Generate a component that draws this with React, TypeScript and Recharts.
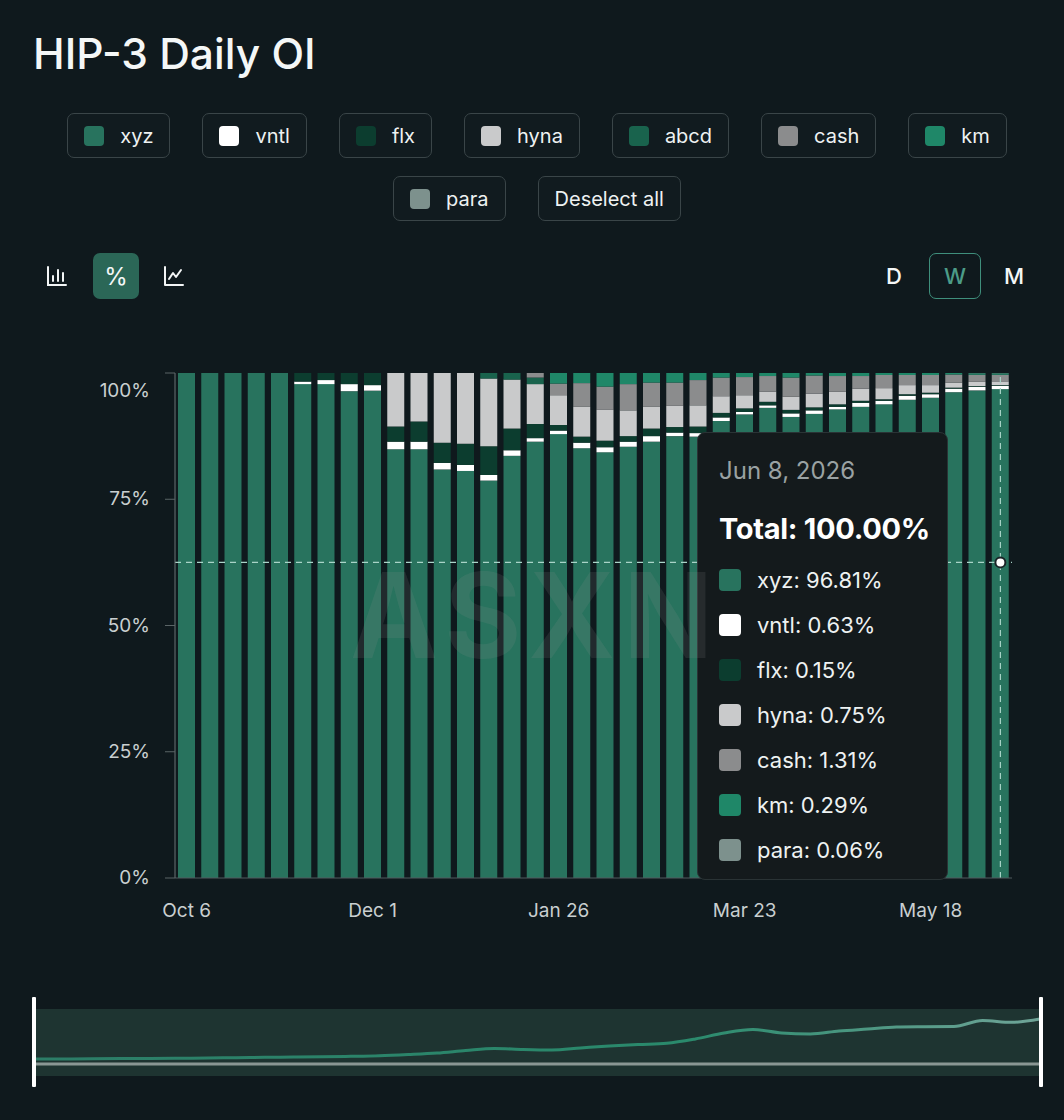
import React from "react"
import {
  BarChart,
  Bar,
  XAxis,
  YAxis,
  Tooltip,
  ReferenceLine,
  ReferenceDot,
  LineChart,
  Line,
} from "recharts"

// weekly buckets, Oct 6 2025 .. Jun 8 2026
const weeks = [
  "Oct 6", "Oct 13", "Oct 20", "Oct 27", "Nov 3", "Nov 10", "Nov 17", "Nov 24",
  "Dec 1", "Dec 8", "Dec 15", "Dec 22", "Dec 29", "Jan 5", "Jan 12", "Jan 19",
  "Jan 26", "Feb 2", "Feb 9", "Feb 16", "Feb 23", "Mar 2", "Mar 9", "Mar 16",
  "Mar 23", "Mar 30", "Apr 6", "Apr 13", "Apr 20", "Apr 27", "May 4", "May 11",
  "May 18", "May 25", "Jun 1", "Jun 8",
]

// share of open interest, %
const xyz = [
  100, 100, 100, 100, 100, 97.8, 97.8, 96.4, 96.5, 84.9, 84.9, 80.9, 80.6, 78.7, 83.6, 86.4,
  87.9, 85.1, 84.3, 85.4, 86.4, 87.5, 87.4, 90.5, 91.8, 93.1, 91.3, 91.9, 92.8, 93.3, 93.8, 94.7,
  95.1, 96.2, 96.6, 96.81,
]
const vntl = [
  0, 0, 0, 0, 0, 0.5, 0.8, 1.4, 1.1, 1.5, 1.5, 1.3, 1.2, 1.1, 1.1, 0.7,
  0.7, 1.1, 1.0, 1.0, 1.1, 0.7, 0.7, 0.7, 0.5, 0.5, 0.7, 0.7, 0.5, 0.8, 0.7, 0.8,
  0.7, 0.7, 0.7, 0.63,
]
const flx = [
  0, 0, 0, 0, 0, 1.7, 1.4, 2.2, 2.4, 3.0, 4.0, 4.0, 4.2, 5.7, 4.3, 2.8,
  1.1, 1.2, 1.3, 1.1, 1.5, 1.1, 1.3, 0.9, 0.7, 0.7, 0.7, 0.6, 0.5, 0.4, 0.3, 0.3,
  0.3, 0.2, 0.15, 0.15,
]
const hyna = [
  0, 0, 0, 0, 0, 0, 0, 0, 0, 10.6, 9.6, 13.8, 14.0, 13.4, 9.7, 7.9,
  5.9, 5.9, 6.1, 5.1, 4.3, 4.2, 4.2, 3.3, 2.6, 2.0, 2.6, 2.7, 2.5, 2.4, 2.2, 1.8,
  1.5, 1.0, 0.85, 0.75,
]
const abcd = [
  0, 0, 0, 0, 0, 0, 0, 0, 0, 0, 0, 0, 0, 1.1, 1.3, 1.3,
  0, 0, 0, 0, 0, 0, 0, 0, 0, 0, 0, 0, 0, 0, 0, 0,
  0, 0, 0, 0,
]
const cash = [
  0, 0, 0, 0, 0, 0, 0, 0, 0, 0, 0, 0, 0, 0, 0, 0.9,
  2.3, 4.7, 4.6, 5.2, 4.8, 4.6, 5.0, 3.7, 3.6, 3.1, 3.8, 3.6, 3.1, 2.5, 2.6, 2.0,
  2.0, 1.6, 1.4, 1.31,
]
const km = [
  0, 0, 0, 0, 0, 0, 0, 0, 0, 0, 0, 0, 0, 0, 0, 0,
  2.1, 2.0, 2.7, 2.2, 1.9, 1.9, 1.4, 0.9, 0.8, 0.6, 0.9, 0.5, 0.6, 0.6, 0.4, 0.4,
  0.4, 0.3, 0.3, 0.29,
]
const para = [
  0, 0, 0, 0, 0, 0, 0, 0, 0, 0, 0, 0, 0, 0, 0, 0,
  0, 0, 0, 0, 0, 0, 0, 0, 0, 0, 0, 0, 0, 0, 0, 0,
  0, 0, 0.05, 0.06,
]

// total OI for the range strip, $M
const totalOi = [
  100, 100, 104, 108, 110, 114, 120, 126, 134, 140, 146, 154, 166, 190, 220, 270,
  310, 290, 280, 320, 360, 390, 414, 500, 620, 690, 620, 600, 660, 700, 740, 746,
  750, 870, 834, 900,
]

const yTicks = [0, 0.25, 0.5, 0.75, 1]

const series = [
  { key: "xyz", color: "#28735e", values: xyz },
  { key: "vntl", color: "#ffffff", values: vntl },
  { key: "flx", color: "#0c3d2f", values: flx },
  { key: "hyna", color: "#c9cacb", values: hyna },
  { key: "abcd", color: "#19634d", values: abcd },
  { key: "cash", color: "#8b8c8d", values: cash },
  { key: "km", color: "#1f8768", values: km },
  { key: "para", color: "#7d918d", values: para },
]

const data = weeks.map((week, i) => {
  const row: Record<string, string | number> = { week }
  series.forEach((s) => {
    row[s.key] = s.values[i]
  })
  return row
})

const brushData = weeks.map((week, i) => ({ week, total: totalOi[i] }))

const BG = "#0f191d"
const FONT = "Inter, 'Noto Sans', sans-serif"

function yearOf(label: string) {
  return weeks.indexOf(label) >= 13 ? 2026 : 2025
}

function YTick({ x, y, payload }: any) {
  const top = payload.value === 1
  return (
    <text x={x} y={y} dy={top ? 24 : 6} textAnchor="end" fill="#c9cfd0" fontSize={19} fontFamily={FONT}>
      {`${Math.round(payload.value * 100)}%`}
    </text>
  )
}

function OiTooltip({ active, payload, label }: any) {
  if (!active || !payload || !payload.length) return null
  const total = payload.reduce((sum: number, p: any) => sum + Number(p.value || 0), 0)
  const rows = payload.filter((p: any) => Number(p.value) > 0)
  return (
    <div
      style={{
        position: "relative",
        width: 251,
        height: 448,
        background: "#141a1c",
        border: "1px solid #2a3335",
        borderRadius: 8,
        boxSizing: "border-box",
        fontFamily: FONT,
      }}
    >
      <div style={{ position: "absolute", left: 21, top: 22, fontSize: 24, lineHeight: "32px", color: "#9aa2a3" }}>
        {`${label}, ${yearOf(label)}`}
      </div>
      <div
        style={{
          position: "absolute",
          left: 21,
          top: 78,
          fontSize: 29,
          lineHeight: "36px",
          fontWeight: 700,
          color: "#ffffff",
          letterSpacing: -0.3,
        }}
      >
        {`Total: ${total.toFixed(2)}%`}
      </div>
      {rows.map((p: any, i: number) => (
        <div
          key={p.dataKey}
          style={{
            position: "absolute",
            left: 21,
            top: 131 + i * 45,
            height: 32,
            display: "flex",
            alignItems: "center",
            gap: 16,
            fontSize: 22,
            color: "#eef2f2",
          }}
        >
          <span style={{ width: 22, height: 22, borderRadius: 4, background: p.color }} />
          <span>{`${p.name}: ${Number(p.value).toFixed(2)}%`}</span>
        </div>
      ))}
    </div>
  )
}

function LegendButton({ color, label }: { color?: string; label: string }) {
  return (
    <div
      style={{
        height: 45,
        boxSizing: "border-box",
        border: "1.5px solid #3a4548",
        borderRadius: 7,
        background: "#111b1f",
        display: "flex",
        alignItems: "center",
        gap: 16,
        padding: "0 16px",
        fontSize: 20,
        color: "#eef2f2",
      }}
    >
      {color && <span style={{ width: 20, height: 20, borderRadius: 4, background: color }} />}
      <span>{label}</span>
    </div>
  )
}

function BarsIcon() {
  return (
    <svg width={24} height={24} viewBox="0 0 24 24" fill="none" stroke="#f2f5f5" strokeWidth={2} strokeLinecap="round">
      <path d="M3 3v18h18" />
      <path d="M8 17v-5M13 17V6M18 17v-8" />
    </svg>
  )
}

function LineIcon() {
  return (
    <svg width={24} height={24} viewBox="0 0 24 24" fill="none" stroke="#f2f5f5" strokeWidth={2} strokeLinecap="round" strokeLinejoin="round">
      <path d="M3 3v18h18" />
      <path d="M7 15l4-6 3 4 5-7" />
    </svg>
  )
}

export default function App() {
  return (
    <div
      style={{
        position: "absolute",
        left: 0,
        top: 0,
        width: 1064,
        height: 1120,
        background: BG,
        fontFamily: FONT,
        overflow: "hidden",
      }}
    >
      <div style={{ position: "absolute", left: 33, top: 29, fontSize: 42.5, lineHeight: "50px", color: "#f4f7f7", fontWeight: 500 }}>
        HIP-3 Daily OI
      </div>

      <div
        style={{
          position: "absolute",
          left: 20,
          top: 113,
          width: 1034,
          display: "flex",
          flexWrap: "wrap",
          justifyContent: "center",
          columnGap: 32,
          rowGap: 18,
        }}
      >
        {series.map((s) => (
          <LegendButton key={s.key} color={s.color} label={s.key} />
        ))}
        <LegendButton label="Deselect all" />
      </div>

      <div style={{ position: "absolute", left: 45, top: 264 }}>
        <BarsIcon />
      </div>
      <div
        style={{
          position: "absolute",
          left: 93,
          top: 253,
          width: 46,
          height: 46,
          borderRadius: 7,
          background: "#2b6757",
          color: "#f4f7f7",
          fontSize: 24,
          fontWeight: 400,
          display: "flex",
          alignItems: "center",
          justifyContent: "center",
        }}
      >
        %
      </div>
      <div style={{ position: "absolute", left: 162, top: 264 }}>
        <LineIcon />
      </div>

      <div style={{ position: "absolute", left: 886, top: 262, fontSize: 22, lineHeight: "28px", color: "#f4f7f7", fontWeight: 500 }}>D</div>
      <div
        style={{
          position: "absolute",
          left: 929,
          top: 253,
          width: 52,
          height: 46,
          boxSizing: "border-box",
          border: "1.5px solid #3f8f7c",
          borderRadius: 7,
          color: "#4c9c88",
          fontSize: 22,
          fontWeight: 500,
          display: "flex",
          alignItems: "center",
          justifyContent: "center",
        }}
      >
        W
      </div>
      <div style={{ position: "absolute", left: 1004, top: 262, fontSize: 22, lineHeight: "28px", color: "#f4f7f7", fontWeight: 500 }}>M</div>

      <div style={{ position: "absolute", left: 0, top: 340 }}>
        <BarChart
          width={1064}
          height={600}
          data={data}
          stackOffset="expand"
          margin={{ top: 33, right: 52, left: 95, bottom: 32 }}
        >
          <XAxis
            dataKey="week"
            interval={7}
            tickLine={false}
            tickSize={0}
            tickMargin={26}
            axisLine={{ stroke: "#515b5e" }}
            tick={{ fill: "#c9cfd0", fontSize: 19, fontFamily: FONT }}
          />
          <YAxis
            width={80}
            domain={[0, 1]}
            ticks={yTicks}
            tickSize={10}
            tickMargin={15}
            axisLine={{ stroke: "#6a7476" }}
            tickLine={{ stroke: "#5a6466" }}
            tick={<YTick />}
          />
          <Tooltip
            content={<OiTooltip />}
            defaultIndex={35}
            cursor={false}
            position={{ x: 697, y: 92 }}
            allowEscapeViewBox={{ x: true, y: true }}
            isAnimationActive={false}
            wrapperStyle={{ outline: "none" }}
          />
          {series.map((s) => (
            <Bar
              key={s.key}
              dataKey={s.key}
              name={s.key}
              stackId="oi"
              fill={s.color}
              barSize={17}
              isAnimationActive={false}
            />
          ))}
          <ReferenceLine y={0.625} stroke="#a9d4c8" strokeDasharray="6 5" strokeWidth={1.2} />
          <ReferenceLine x="Jun 8" stroke="#a9d4c8" strokeDasharray="6 5" strokeWidth={1.2} />
          <ReferenceDot x="Jun 8" y={0.625} r={5} fill="#ffffff" stroke="#1a2326" strokeWidth={2} />
        </BarChart>
      </div>

      <div
        style={{
          position: "absolute",
          left: 350,
          top: 560,
          width: 360,
          textAlign: "center",
          fontSize: 118,
          fontWeight: 700,
          lineHeight: "110px",
          color: "rgba(150,150,150,0.14)",
          pointerEvents: "none",
          letterSpacing: 8,
        }}
      >
        ASXN
      </div>

      <div style={{ position: "absolute", left: 35, top: 1009, width: 1005, height: 67, background: "#1e3431" }}>
        <LineChart width={1005} height={67} data={brushData} margin={{ top: 0, right: 0, left: 0, bottom: 0 }}>
          <defs>
            <linearGradient id="brushLine" x1="0" y1="0" x2="1" y2="0">
              <stop offset="0%" stopColor="#2c7d67" />
              <stop offset="65%" stopColor="#2a8a6c" />
              <stop offset="100%" stopColor="#6fa598" />
            </linearGradient>
          </defs>
          <XAxis dataKey="week" hide />
          <YAxis hide domain={[-240, 1100]} />
          <ReferenceLine y={0} stroke="#8a9794" strokeWidth={3} />
          <Line
            type="monotone"
            dataKey="total"
            stroke="url(#brushLine)"
            strokeWidth={3}
            dot={false}
            isAnimationActive={false}
          />
        </LineChart>
      </div>
      <div style={{ position: "absolute", left: 32, top: 997, width: 4, height: 90, background: "#ffffff", borderRadius: 1 }} />
      <div style={{ position: "absolute", left: 1039, top: 997, width: 4, height: 90, background: "#ffffff", borderRadius: 1 }} />
    </div>
  )
}
